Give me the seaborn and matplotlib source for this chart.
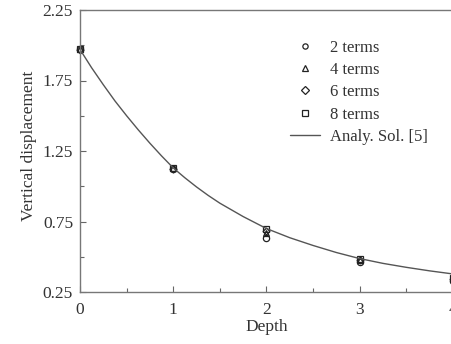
import matplotlib
matplotlib.use("Agg")
import matplotlib.pyplot as plt
import seaborn as sns
import pandas as pd
from matplotlib.ticker import MultipleLocator

sns.set_theme(style="ticks")
plt.rcParams['font.family'] = ['Liberation Serif', 'DejaVu Serif']

depth_pts = [0, 1, 2, 3, 4]
terms2 = [1.97, 1.12, 0.635, 0.46, 0.33]
terms4 = [1.97, 1.13, 0.67, 0.475, 0.34]
terms6 = [1.965, 1.125, 0.685, 0.48, 0.345]
terms8 = [1.975, 1.13, 0.695, 0.485, 0.35]

curve_x = [0, 0.125, 0.25, 0.375, 0.5, 0.625, 0.75, 0.875, 1.0, 1.125, 1.25, 1.375, 1.5,
           1.75, 2.0, 2.25, 2.5, 2.75, 3.0, 3.25, 3.5, 3.75, 4.0]
curve_y = [1.97, 1.84, 1.72, 1.605, 1.50, 1.40, 1.305, 1.215, 1.13, 1.06, 0.995, 0.935, 0.88,
           0.785, 0.70, 0.635, 0.58, 0.53, 0.487, 0.453, 0.425, 0.40, 0.378]

series = [("2 terms", terms2, "o"), ("4 terms", terms4, "^"),
          ("6 terms", terms6, "D"), ("8 terms", terms8, "s")]

fig = plt.figure(figsize=(4.52, 3.44), dpi=100)
ax = fig.add_axes([80/452, 52/344, 1 - 80/452 + 0.002, 282/344])

gray = "#555555"
for label, vals, m in series:
    df = pd.DataFrame({"x": depth_pts, "y": vals})
    ms = 4.5 if m != "D" else 3.5
    sns.lineplot(data=df, x="x", y="y", ax=ax, linestyle="none", marker=m,
                 markersize=ms, markerfacecolor="none", markeredgecolor="#222222",
                 markeredgewidth=0.9, color="#222222", label=label, clip_on=False)

cdf = pd.DataFrame({"x": curve_x, "y": curve_y})
sns.lineplot(data=cdf, x="x", y="y", ax=ax, color=gray, linewidth=1.0, label="Analy. Sol. [5]")

ax.set_xlim(0, 4)
ax.set_ylim(0.25, 2.25)
ax.xaxis.set_major_locator(MultipleLocator(1))
ax.xaxis.set_minor_locator(MultipleLocator(0.5))
ax.yaxis.set_minor_locator(MultipleLocator(0.25))
ax.set_yticks([0.25, 0.75, 1.25, 1.75, 2.25])
ax.set_yticklabels(["0.25", "0.75", "1.25", "1.75", "2.25"])
ax.tick_params(which="both", direction="in", color="#666666", labelcolor="#333333", labelsize=12.5)
ax.tick_params(which="major", length=4, width=0.8)
ax.tick_params(axis="y", which="major", pad=5)
ax.tick_params(axis="x", which="major", pad=7)
ax.tick_params(which="minor", length=3, width=0.8)
for s in ["left", "bottom", "top"]:
    ax.spines[s].set_color("#777777")
    ax.spines[s].set_linewidth(1.0)
ax.spines["right"].set_visible(False)

ax.set_xlabel("Depth", fontsize=12.5, color="#333333", labelpad=1)
ax.set_ylabel("Vertical displacement", fontsize=12.5, color="#333333")
ax.yaxis.set_label_coords(-0.115, 0.52)

leg = ax.legend(loc="upper left", bbox_to_anchor=(0.522, 0.948), frameon=False,
                fontsize=12, handlelength=1.8, handletextpad=0.6, labelspacing=0.38,
                labelcolor="#333333")
for h in leg.legend_handles[:4]:
    h.set_markersize(3.8)

fig.savefig("out.png", dpi=100)
